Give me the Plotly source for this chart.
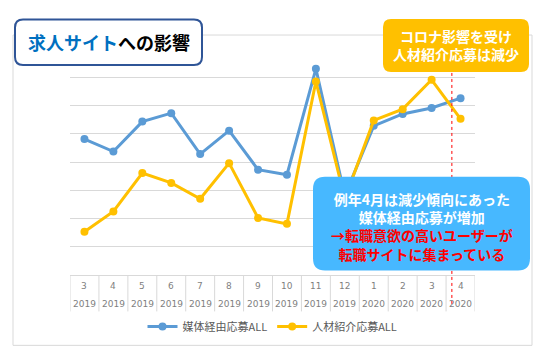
import plotly.graph_objects as go

months = ["3", "4", "5", "6", "7", "8", "9", "10", "11", "12", "1", "2", "3", "4"]
years = ["2019"] * 10 + ["2020"] * 4
media = [4.81, 4.37, 5.43, 5.73, 4.28, 5.11, 3.73, 3.55, 7.30, 2.81, 5.28, 5.70, 5.91, 6.26]
agent = [1.53, 2.25, 3.61, 3.26, 2.70, 3.96, 2.02, 1.81, 6.85, 2.70, 5.47, 5.87, 6.91, 5.53]
series_names = ["媒体経由応募ALL", "人材紹介応募ALL"]
title_blue = "求人サイト"
title_rest = "への影響"
note_top = ["コロナ影響を受け", "人材紹介応募は減少"]
note_white = ["例年4月は減少傾向にあった", "媒体経由応募が増加"]
note_red = ["→転職意欲の高いユーザーが", "転職サイトに集まっている"]

PAGE_W, PAGE_H = 547, 362
OFF = 8  # default body margin of the html page
W, H = PAGE_W - OFF, PAGE_H - OFF
L, R, T, B = 70, 475, 49, 275.5  # plot area in page pixels
FONT = "Noto Sans CJK JP, Noto Sans, sans-serif"
xs = list(range(len(months)))

def px(x):
    return (x - L) / (R - L)

def py(y):
    return (B - y) / (B - T)

def rrect(x0, y0, x1, y1, r):
    rx = r / (R - L)
    ry = r / (B - T)
    a, b, c, d = px(x0), px(x1), py(y0), py(y1)
    return (f"M {a+rx},{c} L {b-rx},{c} Q {b},{c} {b},{c-ry} "
            f"L {b},{d+ry} Q {b},{d} {b-rx},{d} L {a+rx},{d} "
            f"Q {a},{d} {a},{d+ry} L {a},{c-ry} Q {a},{c} {a+rx},{c} Z")

fig = go.Figure()
fig.add_trace(go.Scatter(x=xs, y=media, mode="lines+markers", name=series_names[0],
                         line=dict(color="#5B9BD5", width=3), marker=dict(size=8, color="#5B9BD5")))
fig.add_trace(go.Scatter(x=xs, y=agent, mode="lines+markers", name=series_names[1],
                         line=dict(color="#FFC000", width=3), marker=dict(size=8, color="#FFC000")))

shapes = []
shapes.append(dict(type="rect", xref="paper", yref="paper", x0=px(13), x1=px(532), y0=py(346), y1=py(35),
                   line=dict(color="#D9D9D9", width=1), layer="below"))
for i in range(len(months) + 1):
    shapes.append(dict(type="line", xref="x", yref="paper", x0=i - 0.5, x1=i - 0.5, y0=0, y1=py(312),
                       line=dict(color="#D9D9D9", width=1)))
shapes.append(dict(type="line", xref="x", yref="paper", x0=12.7, x1=12.7, y0=py(73), y1=py(306),
                   line=dict(color="#FF0000", width=1, dash="dot"), layer="above"))
shapes.append(dict(type="path", xref="paper", yref="paper", path=rrect(15, 19.5, 202, 65, 8),
                   fillcolor="white", line=dict(color="#2F5597", width=2), layer="above"))
shapes.append(dict(type="path", xref="paper", yref="paper", path=rrect(383, 19, 529, 72, 8),
                   fillcolor="#FFC000", line=dict(width=0), layer="above"))
shapes.append(dict(type="path", xref="paper", yref="paper", path=rrect(313, 177, 530, 271, 12),
                   fillcolor="#47B8FF", line=dict(width=0), layer="above"))

ann = []
for i, (m, yv) in enumerate(zip(months, years)):
    ann.append(dict(x=i, y=py(287), xref="x", yref="paper", text=m, showarrow=False,
                    xanchor="center", yanchor="middle",
                    font=dict(family="DejaVu Sans", size=9, color="#7F7F7F")))
    ann.append(dict(x=i, y=py(305), xref="x", yref="paper", text=yv, showarrow=False,
                    xanchor="center", yanchor="middle",
                    font=dict(family="DejaVu Sans", size=9, color="#7F7F7F")))
ann.append(dict(x=px(108.5), y=py(42), xref="paper", yref="paper", showarrow=False,
                xanchor="center", yanchor="middle",
                text=f'<b><span style="color:#0070C0">{title_blue}</span>{title_rest}</b>',
                font=dict(family=FONT, size=18, color="#000000")))
ann.append(dict(x=px(456), y=py(44.5), xref="paper", yref="paper", showarrow=False,
                xanchor="center", yanchor="middle",
                text="<b>" + "<br>".join(note_top) + "</b>",
                font=dict(family=FONT, size=14, color="white")))
ann.append(dict(x=px(421.5), y=py(226.5), xref="paper", yref="paper", showarrow=False,
                xanchor="center", yanchor="middle",
                text="<b>" + "<br>".join(note_white) + "<br>" +
                     "<br>".join(f'<span style="color:#FF0000">{t}</span>' for t in note_red) + "</b>",
                font=dict(family=FONT, size=14, color="white")))

fig.update_layout(
    width=W, height=H,
    margin=dict(l=L - OFF, r=PAGE_W - R, t=T - OFF, b=PAGE_H - B),
    plot_bgcolor="white", paper_bgcolor="white",
    showlegend=True,
    legend=dict(orientation="h", x=0.5, xanchor="center", y=py(327), yanchor="middle",
                font=dict(family=FONT, size=11, color="#595959"), itemwidth=30),
    xaxis=dict(range=[-0.5, len(months) - 0.5], showticklabels=False, showgrid=False, zeroline=False,
               showline=True, linecolor="#D9D9D9", linewidth=1, ticks=""),
    yaxis=dict(range=[0, 8], dtick=1, showticklabels=False, showgrid=True, gridcolor="#D9D9D9",
               gridwidth=1, zeroline=False, showline=False, ticks=""),
    shapes=shapes, annotations=ann,
)
fig.write_html("out.html")
